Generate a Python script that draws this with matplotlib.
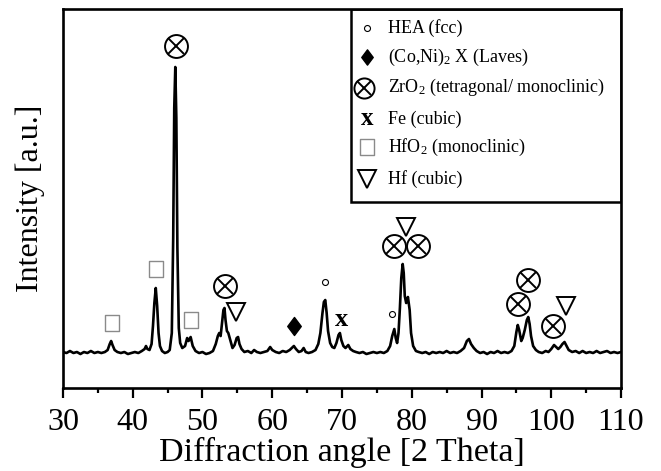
import numpy as np
import matplotlib.pyplot as plt
from matplotlib.path import Path
from matplotlib.patches import Rectangle

plt.rcParams['font.family'] = ['Liberation Serif', 'DejaVu Serif']
plt.rcParams['mathtext.fontset'] = 'custom'
plt.rcParams['mathtext.rm'] = 'Liberation Serif'
plt.rcParams['mathtext.it'] = 'Liberation Serif:italic'

# traced XRD pattern (2 theta, intensity a.u.)
two_theta = [30.0, 30.5, 31.0, 31.5, 32.0, 32.5, 33.0, 33.5, 34.0, 34.5, 35.0, 35.5,
             36.0, 36.4, 36.7, 36.9, 37.1, 37.4, 37.8, 38.3, 38.8, 39.3, 39.8, 40.3,
             40.8, 41.3, 41.7, 41.9, 42.1, 42.4, 42.7, 42.9, 43.1, 43.3, 43.5, 43.7,
             43.9, 44.2, 44.6, 45.0, 45.3, 45.6, 45.8, 45.95, 46.1, 46.25, 46.4, 46.6,
             46.8, 47.1, 47.5, 47.8, 48.0, 48.3, 48.6, 49.0, 49.5, 50.0, 50.5, 51.0,
             51.5, 51.9, 52.2, 52.4, 52.6, 52.8, 53.0, 53.15, 53.3, 53.5, 53.7, 53.9,
             54.1, 54.3, 54.6, 54.9, 55.1, 55.3, 55.6, 56.0, 56.5, 57.0, 57.4, 57.8,
             58.3, 58.8, 59.3, 59.7, 60.0, 60.5, 61.0, 61.5, 62.0, 62.5, 62.8, 63.1,
             63.4, 63.8, 64.2, 64.5, 64.8, 65.2, 65.7, 66.2, 66.6, 66.9, 67.2, 67.4,
             67.6, 67.8, 68.0, 68.3, 68.6, 68.9, 69.2, 69.5, 69.7, 69.9, 70.2, 70.5,
             70.9, 71.2, 71.6, 72.0, 72.5, 73.0, 73.5, 74.0, 74.5, 75.0, 75.5, 76.0,
             76.5, 76.9, 77.2, 77.5, 77.7, 77.9, 78.1, 78.3, 78.5, 78.7, 78.85, 79.0,
             79.2, 79.45, 79.7, 79.9, 80.2, 80.6, 81.0, 81.5, 82.0, 82.5, 83.0, 83.5,
             84.0, 84.5, 85.0, 85.5, 86.0, 86.5, 87.0, 87.5, 87.9, 88.2, 88.5, 88.9,
             89.3, 89.8, 90.3, 90.8, 91.3, 91.8, 92.3, 92.8, 93.3, 93.8, 94.3, 94.7,
             95.0, 95.2, 95.4, 95.7, 95.9, 96.2, 96.5, 96.7, 96.9, 97.1, 97.4, 97.8,
             98.2, 98.7, 99.2, 99.6, 100.0, 100.4, 100.7, 101.0, 101.3, 101.6, 101.9, 102.2,
             102.5, 103.0, 103.5, 104.0, 104.5, 105.0, 105.5, 106.0, 106.5, 107.0, 107.5, 108.0,
             108.5, 109.0, 109.5, 110.0]
intensity = [36, 35, 37, 35, 36, 34, 36, 35, 37, 35, 36, 35,
             36, 38, 44, 47, 43, 38, 36, 35, 36, 34, 35, 36,
             35, 37, 39, 42, 39, 38, 44, 62, 85, 100, 82, 55,
             42, 37, 35, 36, 38, 55, 150, 280, 321, 270, 140, 60,
             45, 40, 42, 50, 47, 51, 42, 37, 35, 36, 34, 35,
             37, 44, 52, 55, 52, 65, 78, 80, 68, 57, 55, 50,
             45, 40, 43, 50, 51, 44, 39, 36, 37, 35, 38, 36,
             35, 36, 37, 41, 38, 36, 35, 37, 36, 38, 40, 42,
             39, 36, 37, 40, 36, 35, 36, 38, 44, 55, 75, 86,
             88, 75, 57, 45, 41, 40, 45, 53, 55, 48, 42, 40,
             43, 39, 37, 36, 35, 36, 34, 35, 36, 35, 36, 35,
             37, 42, 52, 59, 50, 45, 55, 80, 110, 124, 115, 92,
             85, 91, 78, 55, 42, 37, 36, 35, 36, 34, 36, 35,
             36, 35, 37, 35, 36, 35, 37, 40, 47, 49, 44, 40,
             37, 35, 36, 34, 36, 35, 37, 35, 36, 35, 37, 42,
             56, 63, 58, 47, 50, 58, 68, 71, 64, 52, 42, 38,
             36, 35, 37, 36, 39, 43, 41, 39, 41, 44, 46, 42,
             38, 36, 37, 35, 37, 35, 36, 35, 37, 35, 36, 37,
             35, 36, 35, 36]

# phase markers above peaks
hea_x, hea_y = [67.6, 77.2], [106, 74]
laves_x, laves_y = [63.1], [62]
zro2_x = [46.2, 53.2, 77.5, 80.9, 95.3, 96.7, 100.3]
zro2_y = [342, 102, 142, 142, 84, 108, 62]
fe_x, fe_y = [69.9], [69]
hfo2_x, hfo2_y = [37.0, 43.3, 48.4], [65, 119, 68]
hf_x, hf_y = [54.8, 79.2, 102.1], [76, 161, 82]

legend_labels = ['HEA (fcc)', '(Co,Ni)$_2$ X (Laves)',
                 'ZrO$_2$ (tetragonal/ monoclinic)', 'Fe (cubic)',
                 'HfO$_2$ (monoclinic)', 'Hf (cubic)']

diamond = Path([(0, 1), (0.75, 0), (0, -1), (-0.75, 0), (0, 1)], closed=True)
rect = Path([(-0.88, -1), (0.88, -1), (0.88, 1), (-0.88, 1), (-0.88, -1)], closed=True)

fig = plt.figure(figsize=(6.61, 4.71), dpi=100)
ax = fig.add_axes([0.0953, 0.1762, 0.8442, 0.8047])

ax.plot(two_theta, intensity, color='black', lw=1.9)

ax.plot(hea_x, hea_y, ls='none', marker='o', ms=4.3, mfc='white', mec='black', mew=0.8)
ax.plot(laves_x, laves_y, ls='none', marker=diamond, ms=13, color='black')
ax.plot(zro2_x, zro2_y, ls='none', marker='o', ms=16.5, mfc='none', mec='black', mew=1.4)
ax.plot(zro2_x, zro2_y, ls='none', marker='x', ms=11, color='black', mew=1.4)
for x, y in zip(fe_x, fe_y):
    ax.text(x, y, 'x', fontsize=19, fontweight='bold', ha='center', va='center')
ax.plot(hfo2_x, hfo2_y, ls='none', marker=rect, ms=12.2, mfc='white', mec='#8a8a8a', mew=1.0)
ax.plot(hf_x, hf_y, ls='none', marker='v', ms=13, mfc='white', mec='black', mew=1.4)

# legend box drawn by hand
ax.add_patch(Rectangle((0.516, 0.491), 0.484, 0.509, transform=ax.transAxes,
                       fill=False, lw=1.8, ec='black', zorder=5))
rows = [0.950, 0.873, 0.792, 0.710, 0.636, 0.552]
sx, tx = 0.545, 0.582
tr = ax.transAxes
ax.plot(sx, rows[0], marker='o', ms=4.3, mfc='white', mec='black', mew=0.8, transform=tr)
ax.plot(sx, rows[1], marker=diamond, ms=11, color='black', transform=tr)
ax.plot(sx - 0.005, rows[2], marker='o', ms=14.5, mfc='none', mec='black', mew=1.4, transform=tr)
ax.plot(sx - 0.005, rows[2], marker='x', ms=10, color='black', mew=1.4, transform=tr)
ax.text(sx, rows[3], 'x', fontsize=18, fontweight='bold', ha='center', va='center', transform=tr)
ax.plot(sx, rows[4], marker=rect, ms=11.5, mfc='white', mec='#8a8a8a', mew=1.0, transform=tr)
ax.plot(sx, rows[5], marker='v', ms=13, mfc='white', mec='black', mew=1.4, transform=tr)
for y, lab in zip(rows, legend_labels):
    ax.text(tx, y, lab, fontsize=13, ha='left', va='center', transform=tr)

ax.set_xlim(30, 110)
ax.set_ylim(0, 379)
ax.set_xticks(np.arange(30, 111, 10))
ax.set_xticks(np.arange(35, 110, 10), minor=True)
ax.set_yticks([])
ax.tick_params(axis='x', which='major', direction='out', length=7.2, width=1.6,
               labelsize=23, pad=7)
ax.tick_params(axis='x', which='minor', direction='out', length=3.6, width=1.6)
for s in ax.spines.values():
    s.set_linewidth(1.9)

ax.set_xlabel('Diffraction angle [2 Theta]', fontsize=24.5, labelpad=0)
ax.set_ylabel('Intensity [a.u.]', fontsize=23, labelpad=13)

fig.savefig('out.png', dpi=100)
